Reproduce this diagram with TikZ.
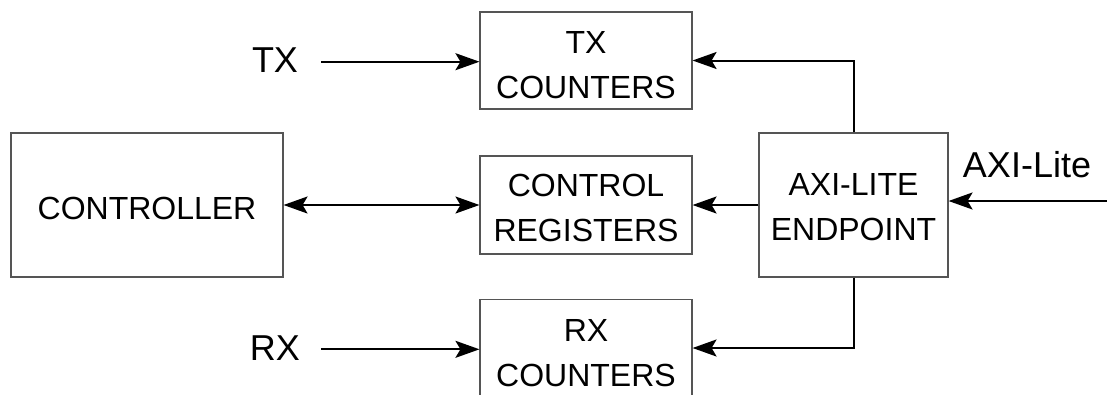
\documentclass[tikz,border=0pt]{standalone}
\usepackage{fontspec}
\setmainfont{Liberation Sans}
\usetikzlibrary{arrows.meta}
\definecolor{boxline}{HTML}{555555}
\tikzset{
  block/.style={draw=boxline, line width=1.1pt, fill=white, inner sep=0pt},
  txt/.style={align=center, font=\fontsize{32}{45}\selectfont, inner sep=0pt},
  lbl/.style={font=\fontsize{36}{40}\selectfont, inner sep=0pt},
  tip/.style={Stealth[length=24pt, width=17pt, inset=5pt]},
  flow/.style={draw=black, line width=2pt, -{Stealth[length=24pt, width=17pt, inset=5pt]}},
  biflow/.style={draw=black, line width=2pt,
    {Stealth[length=24pt, width=17pt, inset=5pt]}-{Stealth[length=24pt, width=17pt, inset=5pt]}}
}
\begin{document}
\begin{tikzpicture}[x=1pt, y=-1pt]
\useasboundingbox (0,0) rectangle (1107,394);

% blocks
\node[block, minimum width=212pt, minimum height=97pt] (txc) at (586,60.5) {};
\node[block, minimum width=212pt, minimum height=98pt] (creg) at (586,205) {};
\node[block, minimum width=212pt, minimum height=97pt] (rxc) at (586,348) {};
\node[block, minimum width=272pt, minimum height=144pt] (ctrl) at (147,205) {};
\node[block, minimum width=189pt, minimum height=144pt] (ep) at (853.5,205) {};

% block captions
\node[txt] (txc-t) at (586,65.5) {TX\\COUNTERS};
\node[txt] (creg-t) at (586,207.5) {CONTROL\\REGISTERS};
\node[txt] (rxc-t) at (586,353.5) {RX\\COUNTERS};
\node[txt] (ctrl-t) at (147,208.3) {CONTROLLER};
\node[txt] (ep-t) at (853.5,207.5) {AXI-LITE\\ENDPOINT};

% external signal labels
\node[lbl] (tx) at (275,60) {TX};
\node[lbl] (rx) at (275,348) {RX};
\node[lbl] (axi) at (1027,165) {AXI-Lite};
\coordinate (txs) at (321,61.7);
\coordinate (rxs) at (321,349.3);
\coordinate (axiin) at (1107,201);

% connections
\draw[flow] (txs) -- (txs -| txc.west);
\draw[flow] (rxs) -- (rxs -| rxc.west);
\draw[biflow] (ctrl.east) -- (creg.west);
\draw[flow] (ep.west) -- (creg.east);
\draw[flow] (ep.north) |- (txc.east);
\draw[flow] (ep.south) |- (rxc.east);
\draw[flow] (axiin) -- (axiin -| ep.east);
\end{tikzpicture}
\end{document}
